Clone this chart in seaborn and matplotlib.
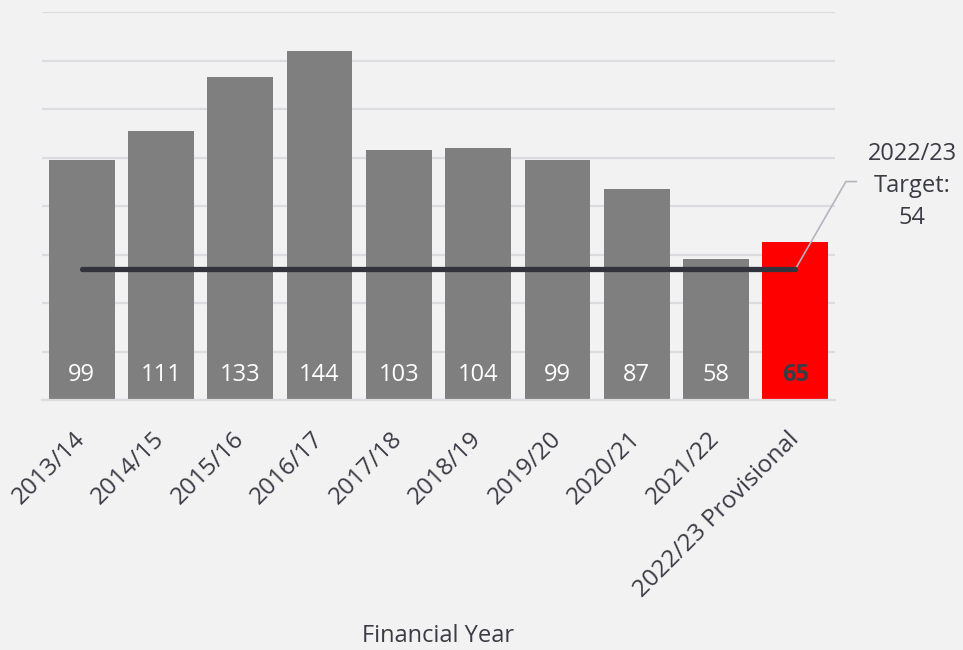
import pandas as pd
import seaborn as sns
import matplotlib.pyplot as plt

# data
years = ['2013/14', '2014/15', '2015/16', '2016/17', '2017/18', '2018/19',
         '2019/20', '2020/21', '2021/22', '2022/23 Provisional']
counts = [99, 111, 133, 144, 103, 104, 99, 87, 58, 65]
target = 54
target_label = '2022/23\nTarget:\n54'

df = pd.DataFrame({'year': years, 'count': counts})

bg = '#f2f2f2'
text_col = '#3b3b45'
palette = {y: '#7f7f7f' for y in years}
palette[years[-1]] = '#ff0000'

sns.set_style('white', {'axes.facecolor': bg, 'figure.facecolor': bg})
plt.rcParams['font.family'] = ['Open Sans', 'DejaVu Sans']

fig = plt.figure(figsize=(9.63, 6.5), dpi=100)
ax = fig.add_axes([0.0436, 0.3846, 0.8235, 0.5969])

# grid behind bars
ax.set_axisbelow(True)
ax.yaxis.grid(True, color='#dcdce0', linewidth=1.6)
sns.barplot(data=df, x='year', y='count', hue='year', palette=palette,
            width=0.83, legend=False, saturation=1, linewidth=0, ax=ax)
ax.set_ylim(0, 160)
ax.set_xlim(-0.5, len(years) - 0.5)
ax.set_yticks(range(0, 161, 20))
ax.tick_params(axis='y', left=False, labelleft=False)
ax.tick_params(axis='x', bottom=False, pad=22)
sns.despine(ax=ax, left=True, top=True, right=True)
ax.spines['bottom'].set_color('#dcdce0')
ax.spines['bottom'].set_linewidth(1.6)

# value labels at the bottom of each bar
for i, v in enumerate(counts):
    last = i == len(counts) - 1
    ax.text(i, 10.5, str(v), ha='center', va='center', fontsize=17,
            color=text_col if last else 'white',
            fontweight='bold' if last else 'normal')

# target line
ax.plot([0, len(years) - 1], [target, target], color='#33333d', linewidth=3.8,
        solid_capstyle='round', zorder=5)

# target callout
ax.annotate('', xy=(len(years) - 1, target), xytext=(44, 63),
            textcoords='offset points', annotation_clip=False,
            arrowprops=dict(arrowstyle='-', color='#b4b4be', linewidth=1.2,
                            shrinkA=0, shrinkB=0,
                            connectionstyle='angle,angleA=0,angleB=60,rad=0'))
ax.annotate(target_label, xy=(len(years) - 1, target), xytext=(84, 60),
            textcoords='offset points', ha='center', va='center',
            fontsize=17, color=text_col, linespacing=1.45,
            annotation_clip=False)

ax.set_xticks(range(len(years)))
ax.set_xticklabels(years, rotation=45, ha='right', va='center',
                   rotation_mode='anchor', fontsize=17.5, color=text_col)
ax.set_xlabel('Financial Year', fontsize=17, color=text_col, labelpad=16)
ax.set_ylabel('')

fig.savefig('out.png', dpi=100, facecolor=bg)
